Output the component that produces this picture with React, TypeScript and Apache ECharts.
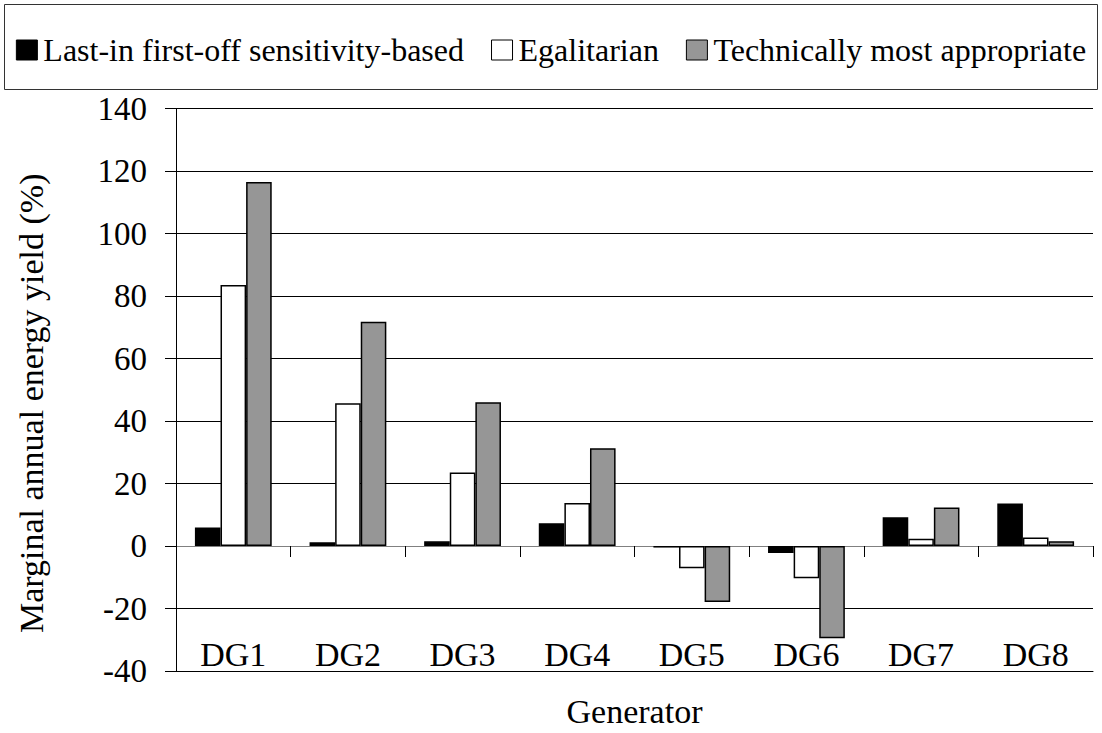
import React, { useEffect, useRef } from "react";
import * as echarts from "echarts";

const categories = ["DG1", "DG2", "DG3", "DG4", "DG5", "DG6", "DG7", "DG8"];
const seriesNames = [
  "Last-in first-off sensitivity-based",
  "Egalitarian",
  "Technically most appropriate",
];
const lifoValues = [5.9, 1.2, 1.5, 7.3, -0.5, -2.2, 9.2, 13.6];
const egalitarianValues = [83.5, 45.7, 23.5, 13.8, -7.1, -10.3, 2.3, 2.7];
const technicalValues = [116.5, 71.8, 46.0, 31.3, -17.9, -29.5, 12.3, 1.5];
const seriesColors = ["#000000", "#ffffff", "#969696"];
const yMin = -40;
const yMax = 140;
const yInterval = 20;

const FONT = "Liberation Serif";

export default function App() {
  const ref = useRef<HTMLDivElement>(null);

  useEffect(() => {
    if (!ref.current) return;
    const chart = echarts.init(ref.current, undefined, { renderer: "svg" });
    const values = [lifoValues, egalitarianValues, technicalValues];
    chart.setOption({
      animation: false,
      backgroundColor: "#ffffff",
      textStyle: { fontFamily: FONT },
      graphic: [
        {
          type: "rect",
          shape: { x: 4.5, y: 4.5, width: 1093, height: 85 },
          style: { fill: "none", stroke: "#333", lineWidth: 1 },
          z: 0,
        },
      ],
      legend: {
        left: "center",
        top: 29,
        itemWidth: 21,
        itemHeight: 20,
        itemGap: 27,
        icon: "rect",
        textStyle: { fontFamily: FONT, fontSize: 32, color: "#000", padding: [0, 0, 0, 1] },
        data: seriesNames.map((n) => ({
          name: n,
          itemStyle: { borderColor: "#000", borderWidth: 1 },
        })),
      },
      grid: { left: 176, right: 9, top: 108.5, bottom: 58.5 },
      xAxis: [
        {
          type: "category",
          data: categories,
          position: "bottom",
          axisLine: { onZero: true, lineStyle: { color: "#808080", width: 1 } },
          axisTick: { show: true, length: 11, lineStyle: { color: "#000" } },
          axisLabel: { show: false },
          splitLine: { show: false },
        },
        {
          type: "category",
          data: categories,
          position: "bottom",
          axisLine: { onZero: false, lineStyle: { color: "#000", width: 1 } },
          axisTick: { show: false },
          axisLabel: {
            inside: true,
            margin: 0,
            fontFamily: FONT,
            fontSize: 34,
            color: "#000",
          },
          name: "Generator",
          nameLocation: "middle",
          nameGap: 23,
          nameTextStyle: { fontFamily: FONT, fontSize: 34, color: "#000" },
        },
      ],
      yAxis: {
        type: "value",
        min: yMin,
        max: yMax,
        interval: yInterval,
        axisLine: { show: true, lineStyle: { color: "#000", width: 1 } },
        axisTick: { show: true, length: 11, lineStyle: { color: "#000" } },
        axisLabel: { margin: 29, fontFamily: FONT, fontSize: 33, color: "#000" },
        splitLine: { show: true, lineStyle: { color: "#000", width: 1 } },
        name: "Marginal annual energy yield (%)",
        nameLocation: "middle",
        nameGap: 128,
        nameTextStyle: {
          fontFamily: FONT,
          fontSize: 34,
          color: "#000",
          padding: [0, 27, 0, 0],
        },
      },
      series: seriesNames.map((name, i) => ({
        name,
        type: "bar",
        xAxisIndex: 0,
        data: values[i],
        barGap: "0%",
        barCategoryGap: "33%",
        itemStyle: { color: seriesColors[i], borderColor: "#000", borderWidth: 1.5 },
      })),
    });
    return () => chart.dispose();
  }, []);

  return (
    <div
      ref={ref}
      style={{ position: "fixed", left: 0, top: 0, width: 1102, height: 733 }}
    />
  );
}
